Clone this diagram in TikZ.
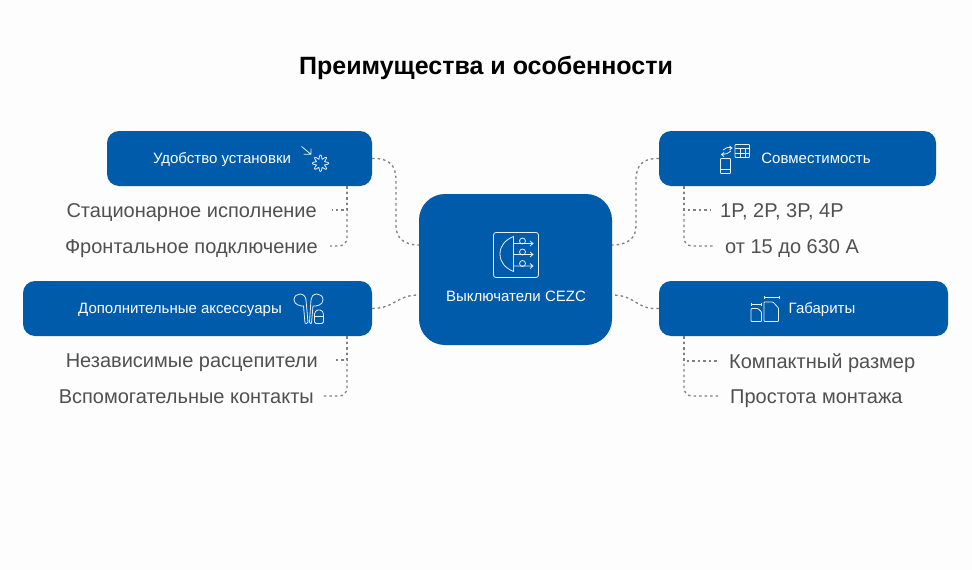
\documentclass[tikz,border=0pt]{standalone}
\usepackage{fontspec}
\setmainfont{Liberation Sans}
\definecolor{boxblue}{HTML}{005BAA}
\definecolor{leafgray}{HTML}{505050}
\definecolor{linkgray}{HTML}{808080}
\definecolor{pagewhite}{HTML}{FDFDFD}
\tikzset{
    bluebox/.style={fill=boxblue, rounded corners=12pt, inner sep=0pt},
    boxlabel/.style={text=white, font=\fontsize{15}{18}\selectfont, text height=12.5pt, text depth=3pt, inner sep=0pt},
    leaf/.style={text=leafgray, font=\fontsize{20}{24}\selectfont, text height=18pt, text depth=4pt, inner ysep=0pt, inner xsep=10pt},
    link/.style={linkgray, line width=1.3pt, dash pattern=on 2.5pt off 3pt},
    icon/.style={white, line width=0.8pt, opacity=0.9},
}
\begin{document}
\begin{tikzpicture}[x=1pt, y=-1pt]
    \useasboundingbox[fill=pagewhite] (0,0) rectangle (972,570);

    \node[font=\bfseries\fontsize{25}{30}\selectfont] (title) at (486,67.5) {Преимущества и особенности};

    \node[bluebox, minimum width=265pt, minimum height=55pt] (ust) at (239.5,158.5) {};
    \node[bluebox, minimum width=277pt, minimum height=55pt] (compat) at (797.5,158.5) {};
    \node[bluebox, minimum width=349pt, minimum height=55pt] (acc) at (197.5,308.5) {};
    \node[bluebox, minimum width=289pt, minimum height=55pt] (gab) at (803.5,308.5) {};
    \node[bluebox, minimum width=193pt, minimum height=151pt, rounded corners=26pt] (hub) at (515.5,269.5) {};

    \node[boxlabel] (ustlabel) at (222,158.5) {Удобство установки};
    \node[boxlabel] (compatlabel) at (816,158.5) {Совместимость};
    \node[boxlabel] (acclabel) at (180,308.5) {Дополнительные аксессуары};
    \node[boxlabel] (gablabel) at (822,308.5) {Габариты};
    \node[boxlabel] (hublabel) at (516,297) {Выключатели CEZC};

    \node[leaf, inner xsep=15pt, anchor=east] (fix) at (332,210) {Стационарное исполнение};
    \node[leaf, inner xsep=12pt, anchor=east] (front) at (330,246) {Фронтальное подключение};
    \node[leaf, inner xsep=15pt, anchor=east] (trip) at (333,360) {Независимые расцепители};
    \node[leaf, inner xsep=9pt, anchor=east] (aux) at (323,396) {Вспомогательные контакты};
    \node[leaf, anchor=west] (poles) at (710,210) {1P, 2P, 3P, 4P};
    \node[leaf, anchor=west] (amps) at (715,246) {от 15 до 630 А};
    \node[leaf, anchor=west] (small) at (719,361) {Компактный размер};
    \node[leaf, anchor=west] (mount) at (720,396) {Простота монтажа};

    \coordinate (hubA) at (419,245);
    \coordinate (hubB) at (419,295);
    \coordinate (hubC) at (612,245);
    \coordinate (hubD) at (612,295);
    \coordinate (ustfoot) at (347,186);
    \coordinate (accfoot) at (347,336);
    \coordinate (compatfoot) at (684,186);
    \coordinate (gabfoot) at (684,336);

    \draw[link] (ust.east) .. controls (389,158) and (396,165) .. (396,180) -- (396,226) .. controls (396,238) and (404,245) .. (hubA);
    \draw[link] (compat.west) .. controls (643,158) and (636,165) .. (636,180) -- (636,226) .. controls (636,238) and (628,245) .. (hubC);
    \draw[link] (acc.east) .. controls (396,308) and (396,295) .. (hubB);
    \draw[link] (gab.west) .. controls (636,310) and (636,295) .. (hubD);

    \draw[link] (ustfoot) |- (fix.east);
    \draw[link, rounded corners=8pt] (ustfoot) |- (front.east);
    \draw[link] (accfoot) |- (trip.east);
    \draw[link, rounded corners=8pt] (accfoot) |- (aux.east);
    \draw[link] (compatfoot) |- (poles.west);
    \draw[link, rounded corners=8pt] (compatfoot) |- (amps.west);
    \draw[link] (gabfoot) |- (small.west);
    \draw[link, rounded corners=8pt] (gabfoot) |- (mount.west);

    \draw[icon] (301.5,146.5) -- (311,154.3) (311,148.5) -- (311,154.3) -- (303.5,154.3);
    \draw[icon] plot[smooth cycle, samples=65, domain=0:354.375] ({320.5+(6.3+1.9*cos(8*\x))*cos(\x)},{163.3+(6.3+1.9*cos(8*\x))*sin(\x)});

    \draw[icon, rounded corners=0.8pt] (735,144.5) rectangle (749.5,157.5);
    \draw[icon] (735,148.5) -- (749.5,148.5) (735,153) -- (749.5,153) (740,148.5) -- (740,157.5) (745,148.5) -- (745,157.5);
    \draw[icon, rounded corners=0.8pt] (720.5,158.5) rectangle (730.5,173.5);
    \draw[icon] (720.5,169) -- (730.5,169);
    \draw[icon] (723,150) .. controls (725,147.5) and (728,147) .. (732,148) (729.5,146) -- (732,148) -- (729.5,150);
    \draw[icon] (731,151) .. controls (729,153.5) and (726,154) .. (721.5,154.5) (724,152.5) -- (721.5,154.5) -- (724,156.5);

    \draw[icon] (305,323) -- (303.5,306) .. controls (302,306.5) and (294,305) .. (294,300) .. controls (294,296) and (297,294) .. (300,294) .. controls (303.5,294) and (306,297) .. (306,300) -- (308,322) .. controls (308,324) and (305,324) .. (305,323) -- cycle;
    \draw[icon] (311.5,323) -- (313,306) .. controls (316,306.5) and (323,305) .. (323,300) .. controls (323,296) and (320,294) .. (317,294) .. controls (313,294) and (311,297) .. (311,300) -- (309.5,322) .. controls (309.5,324) and (311.5,324) .. (311.5,323) -- cycle;
    \draw[icon, rounded corners=1.5pt] (314.5,323.5) -- (314.5,313) -- (316.5,310) -- (321.5,310) -- (323.5,313) -- (323.5,323.5) -- cycle;
    \draw[icon] (314.5,316) -- (323.5,316);

    \draw[icon] (751.5,304) -- (761,304) (751.5,302.5) -- (751.5,305.5) (761,302.5) -- (761,305.5);
    \draw[icon, rounded corners=0.8pt] (751,321.5) -- (751,308.5) -- (758,308.5) -- (761.5,312) -- (761.5,321.5) -- cycle;
    \draw[icon] (764,297) -- (779,297) (764,295.5) -- (764,298.5) (779,295.5) -- (779,298.5);
    \draw[icon, rounded corners=0.8pt] (764,321.5) -- (764,302) -- (773,302) -- (778.5,308) -- (778.5,321.5) -- cycle;

    \draw[icon, rounded corners=2.5pt] (493.5,232.5) rectangle (538.5,277.5);
    \draw[icon] (513.5,236.5) -- (513.5,271.5) .. controls (505,268) and (500,262) .. (500,254) .. controls (500,246) and (505,240) .. (513.5,236.5) -- cycle;
    \draw[icon] (522.5,241) circle (3) (522.5,252) circle (3) (522.5,263.5) circle (3);
    \draw[icon] (513.5,243.5) -- (533,243.5) (530,241) -- (533,243.5) -- (530,246);
    \draw[icon] (513.5,254.5) -- (533,254.5) (530,252) -- (533,254.5) -- (530,257);
    \draw[icon] (513.5,266) -- (533,266) (530,263.5) -- (533,266) -- (530,268.5);
\end{tikzpicture}
\end{document}
